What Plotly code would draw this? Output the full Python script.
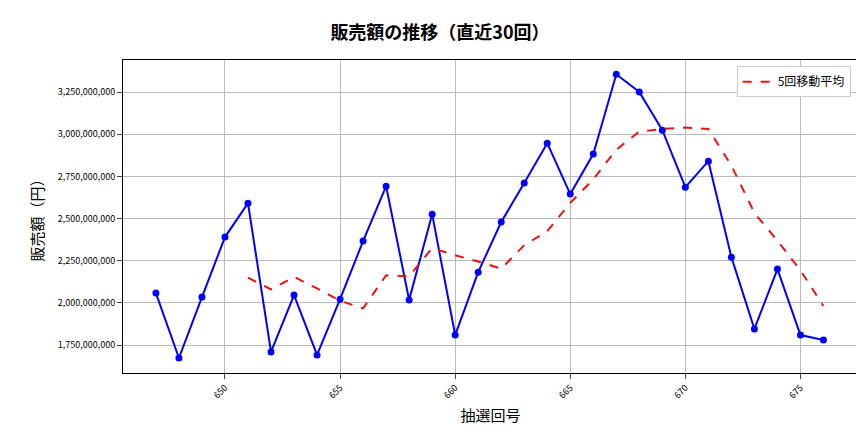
import pandas as pd
import plotly.graph_objects as go

draws = list(range(647, 677))
sales = [2058, 1673, 2034, 2390, 2591, 1709, 2046, 1691, 2022, 2366,
         2692, 2017, 2526, 1809, 2182, 2479, 2710, 2947, 2645, 2882,
         3355, 3250, 3024, 2686, 2840, 2271, 1845, 2200, 1809, 1780]
sales = [v * 1_000_000 for v in sales]
ma5 = pd.Series(sales).rolling(5).mean()

font = "Noto Sans CJK JP"
fig = go.Figure()
fig.add_trace(go.Scatter(x=draws, y=sales, mode="lines+markers",
                         line=dict(color="#0000ff", width=2),
                         marker=dict(color="#0000ff", size=7),
                         showlegend=False))
fig.add_trace(go.Scatter(x=draws, y=ma5, mode="lines", name="5回移動平均",
                         line=dict(color="#ee1111", width=2, dash="dash")))

fig.update_layout(
    width=864, height=432, paper_bgcolor="white", plot_bgcolor="white",
    font=dict(family=font, color="black"),
    margin=dict(l=115, r=14, t=52, b=67),
    title=dict(text="<b>販売額の推移（直近30回）</b>", x=0.5, xanchor="center",
               y=1 - 25 / 432, yanchor="middle", font=dict(size=18)),
    legend=dict(x=0.99, y=0.98, xanchor="right", yanchor="top",
                bordercolor="#cccccc", borderwidth=1, font=dict(size=12)),
)
fig.update_xaxes(range=[645.57, 677.5], tickvals=[650, 655, 660, 665, 670, 675],
                 tickangle=-45, tickfont=dict(size=9), showgrid=True, automargin=False,
                 gridcolor="#bbbbbb", showline=True, linecolor="black", mirror=True,
                 ticks="outside",
                 title=dict(text="抽選回号", font=dict(size=15), standoff=10))
fig.update_yaxes(range=[1584e6, 3440e6], dtick=250e6, tickformat=",d", automargin=False,
                 tickfont=dict(size=9), showgrid=True, gridcolor="#bbbbbb",
                 showline=True, linecolor="black", mirror=True, ticks="outside",
                 title=dict(text="販売額（円）", font=dict(size=15), standoff=10))
fig.write_html("out.html")
